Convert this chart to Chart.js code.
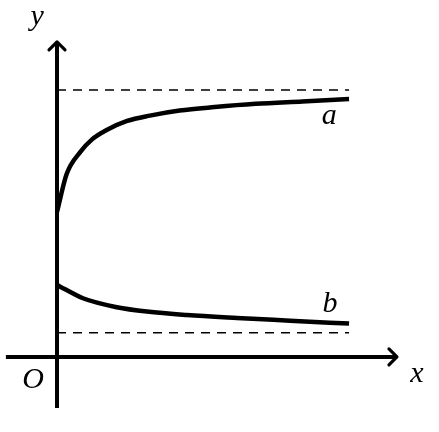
<!DOCTYPE html>
<html>
<head>
<meta charset="utf-8">
<script src="https://cdn.jsdelivr.net/npm/chart.js@4/dist/chart.umd.min.js"></script>
<style>
  html, body { margin: 0; padding: 0; background: #fff; }
  #wrap { width: 439px; height: 432px; }
</style>
</head>
<body>
<div id="wrap"><canvas id="graph" width="439" height="432"></canvas></div>
<script>
// Curve a: rises from the y-axis towards its upper asymptote
const curveAX = [0, 0.33, 0.8, 1.2, 1.7, 2.4, 3.18, 4.2, 5.4, 6.8, 8.4, 10];
const curveAY = [5.43, 6.85, 7.68, 8.15, 8.50, 8.84, 9.04, 9.23, 9.36, 9.48, 9.57, 9.66];

// Curve b: falls from the y-axis towards its lower asymptote
const curveBX = [0, 0.89, 2.05, 3.08, 4.45, 6.16, 7.98, 10];
const curveBY = [2.70, 2.20, 1.865, 1.70, 1.57, 1.46, 1.36, 1.25];

// Dashed asymptotes (y values) and their x extent
const asymptotes = [10, 0.91];
const asymptoteSpan = [0, 10];

// Axis extents
const xAxisSpan = [-1.75, 11.64];
const yAxisSpan = [-1.91, 11.8];

// Text labels
const curveLabels = ['a', 'b'];
const axisLabels = ['x', 'y', 'O'];

const toPoints = (xs, ys) => xs.map((x, i) => ({ x: x, y: ys[i] }));

const solid = {
    borderColor: '#000',
    pointRadius: 0,
    fill: false
};

const datasets = [
    // axes
    Object.assign({}, solid, {
        data: [{ x: xAxisSpan[0], y: 0 }, { x: xAxisSpan[1], y: 0 }],
        borderWidth: 4
    }),
    Object.assign({}, solid, {
        data: [{ x: 0, y: yAxisSpan[0] }, { x: 0, y: yAxisSpan[1] }],
        borderWidth: 4
    }),
    // curves
    Object.assign({}, solid, {
        data: toPoints(curveAX, curveAY),
        borderWidth: 4.5,
        cubicInterpolationMode: 'monotone'
    }),
    Object.assign({}, solid, {
        data: toPoints(curveBX, curveBY),
        borderWidth: 4.5,
        cubicInterpolationMode: 'monotone'
    })
];

// dashed asymptotes
asymptotes.forEach(v => {
    datasets.push(Object.assign({}, solid, {
        data: asymptoteSpan.map(x => ({ x: x, y: v })),
        borderWidth: 1.5,
        borderDash: [9, 7]
    }));
});

// Arrow heads and italic labels
const decorations = {
    id: 'decorations',
    afterDatasetsDraw(chart) {
        const ctx = chart.ctx;
        const xs = chart.scales.x;
        const ys = chart.scales.y;
        const px = v => xs.getPixelForValue(v);
        const py = v => ys.getPixelForValue(v);

        ctx.save();
        ctx.strokeStyle = '#000';
        ctx.lineWidth = 3.2;
        ctx.lineCap = 'round';
        ctx.lineJoin = 'round';

        // x-axis arrow
        let tx = px(xAxisSpan[1]), ty = py(0);
        ctx.beginPath();
        ctx.moveTo(tx - 8, ty - 8);
        ctx.lineTo(tx, ty);
        ctx.lineTo(tx - 8, ty + 8);
        ctx.stroke();

        // y-axis arrow
        tx = px(0); ty = py(yAxisSpan[1]);
        ctx.beginPath();
        ctx.moveTo(tx - 8, ty + 8);
        ctx.lineTo(tx, ty);
        ctx.lineTo(tx + 8, ty + 8);
        ctx.stroke();

        // labels
        ctx.fillStyle = '#000';
        ctx.font = 'italic 30px "Liberation Serif", "DejaVu Serif", serif';
        ctx.textAlign = 'center';
        ctx.textBaseline = 'alphabetic';
        ctx.fillText(axisLabels[0], px(12.32), py(-0.94));
        ctx.fillText(axisLabels[1], px(-0.68), py(12.43));
        ctx.fillText(axisLabels[2], px(-0.82), py(-1.16));
        ctx.fillText(curveLabels[0], px(9.32), py(8.73));
        ctx.fillText(curveLabels[1], px(9.35), py(1.69));
        ctx.restore();
    }
};

new Chart(document.getElementById('graph'), {
    type: 'line',
    data: { datasets: datasets },
    options: {
        responsive: false,
        animation: false,
        devicePixelRatio: 1,
        layout: { padding: 0 },
        plugins: {
            legend: { display: false },
            tooltip: { enabled: false }
        },
        scales: {
            x: { type: 'linear', min: -1.952, max: 13.08, display: false },
            y: { type: 'linear', min: -2.81, max: 13.37, display: false }
        }
    },
    plugins: [decorations]
});
</script>
</body>
</html>
